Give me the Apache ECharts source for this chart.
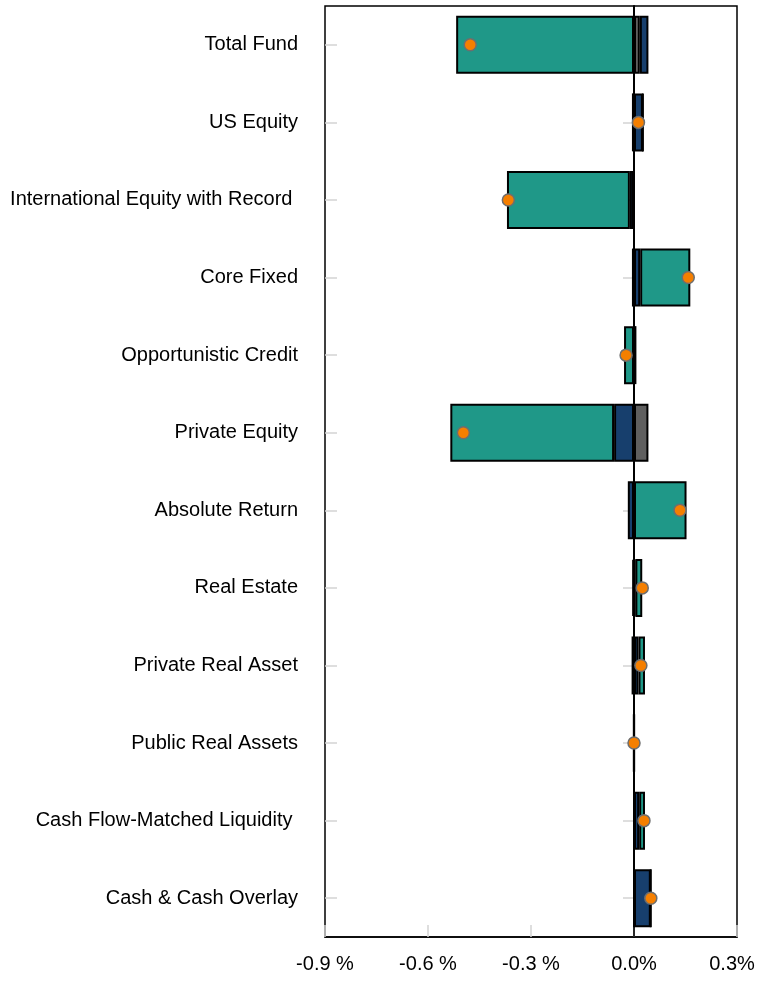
<!DOCTYPE html>
<html>
<head>
<meta charset="utf-8">
<script src="https://cdn.jsdelivr.net/npm/echarts@6/dist/echarts.min.js"></script>
<style>
  html, body { margin: 0; padding: 0; background: #fff; }
  #chart { width: 757px; height: 981px; }
</style>
</head>
<body>
<div id="chart"></div>
<script>
const categories = [
  'Total Fund',
  'US Equity',
  'International Equity with Record ',
  'Core Fixed',
  'Opportunistic Credit',
  'Private Equity',
  'Absolute Return',
  'Real Estate',
  'Private Real Asset',
  'Public Real Assets',
  'Cash Flow-Matched Liquidity ',
  'Cash & Cash Overlay',
];

// contributions in %
const grayValues = [0.017, -0.006, 0, -0.006, 0, 0.042, 0, -0.005, -0.007, 0, 0, 0];
const blueValues = [0.025, 0.026, -0.012, 0.018, 0.007, -0.058, -0.018, 0.004, 0.013, -0.001, 0.015, 0.049];
const tealValues = [-0.518, 0, -0.358, 0.146, -0.029, -0.477, 0.153, 0.020, 0.019, 0.001, 0.017, 0];
const totalValues = [-0.477, 0.013, -0.366, 0.158, -0.023, -0.497, 0.134, 0.024, 0.020, 0.000, 0.029, 0.049];

const xTickLabels = ['-0.9 %', '-0.6 %', '-0.3 %', '0.0%', '0.3%'];

const FONT = "'Liberation Sans', Arial, sans-serif";
const X_MIN = -0.9;
const X_STEP = 0.3;

const barBorder = { borderColor: '#000', borderWidth: 2 };

const chart = echarts.init(document.getElementById('chart'));

chart.setOption({
  animation: false,
  backgroundColor: '#fff',
  grid: {
    left: 325,
    right: 20,
    top: 6,
    bottom: 44,
    outerBoundsMode: 'none',
    containLabel: false,
    show: true,
    borderColor: '#000',
    borderWidth: 1.5,
  },
  xAxis: {
    type: 'value',
    min: X_MIN,
    max: 0.3,
    interval: X_STEP,
    axisLine: { show: true, lineStyle: { color: '#000', width: 1.5 } },
    axisTick: { show: true, inside: true, length: 12, lineStyle: { color: '#d4d4d4', width: 1.5 } },
    splitLine: { show: false },
    axisLabel: {
      margin: 17,
      color: '#000',
      fontFamily: FONT,
      fontSize: 20,
      formatter: v => {
        const i = Math.round((v - X_MIN) / X_STEP);
        // keep the last label inside the canvas
        return i === xTickLabels.length - 1 ? '{last|' + xTickLabels[i] + '}' : xTickLabels[i];
      },
      rich: {
        last: { fontFamily: FONT, fontSize: 20, color: '#000', padding: [0, 10, 0, 0] },
      },
    },
  },
  yAxis: [
    {
      type: 'category',
      data: categories,
      inverse: true,
      axisLine: { show: true, lineStyle: { color: '#000', width: 2 } },
      axisTick: { show: true, alignWithLabel: true, length: 11, lineStyle: { color: '#d4d4d4', width: 1.5 } },
      axisLabel: { margin: 27, color: '#000', fontFamily: FONT, fontSize: 20 },
    },
    {
      type: 'category',
      data: categories,
      inverse: true,
      position: 'left',
      axisLine: { show: false },
      axisTick: { show: true, inside: true, alignWithLabel: true, length: 12, lineStyle: { color: '#d4d4d4', width: 1.5 } },
      axisLabel: { show: false },
    },
  ],
  series: [
    {
      name: 'Gray',
      type: 'bar',
      stack: 'attr',
      barWidth: 58,
      data: grayValues,
      itemStyle: { color: '#5f5f5f', ...barBorder },
    },
    {
      name: 'Blue',
      type: 'bar',
      stack: 'attr',
      barWidth: 58,
      data: blueValues,
      itemStyle: { color: '#173f6d', ...barBorder },
    },
    {
      name: 'Teal',
      type: 'bar',
      stack: 'attr',
      barWidth: 58,
      data: tealValues,
      itemStyle: { color: '#1f9888', ...barBorder },
      markLine: {
        silent: true,
        symbol: ['none', 'none'],
        label: { show: false },
        lineStyle: { color: '#000', width: 1.5, type: 'solid' },
        data: [{ xAxis: 0 }],
      },
    },
    {
      name: 'Total',
      type: 'scatter',
      z: 5,
      symbolSize: 12,
      data: totalValues.map((v, i) => [v, i]),
      itemStyle: { color: '#f57f00', opacity: 1, borderColor: '#6e6e6e', borderWidth: 1.5 },
    },
  ],
});
</script>
</body>
</html>
